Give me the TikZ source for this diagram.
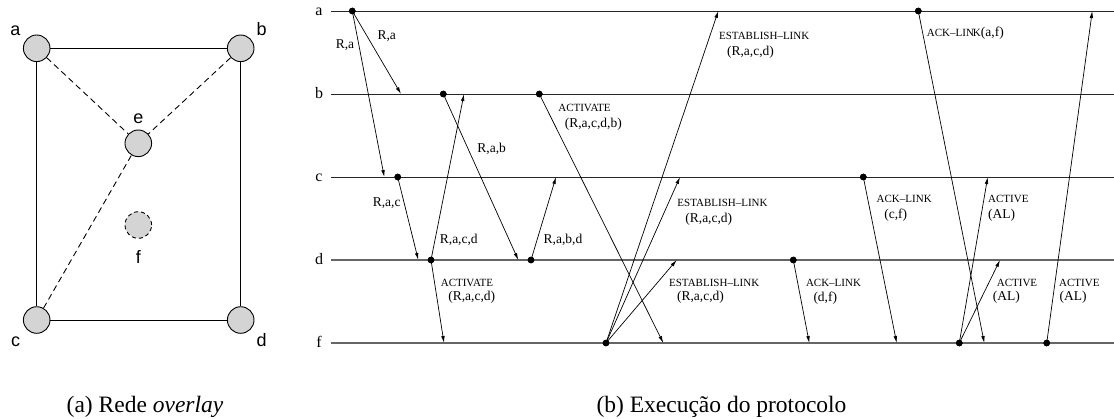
\documentclass[tikz,border=0pt]{standalone}
\usepackage{fontspec}
\setmainfont{Liberation Serif}
\newfontfamily\lsans{Liberation Sans}
\usetikzlibrary{arrows.meta}
\begin{document}
\begin{tikzpicture}[x=1pt,y=-1pt,
  vtx/.style={circle,draw=black,fill=black!17,line width=0.9pt,minimum size=26.6pt,inner sep=0pt},
  ghost/.style={vtx,dash pattern=on 4pt off 3pt},
  vlbl/.style={font=\lsans\fontsize{18}{18}\selectfont,anchor=base,inner sep=0pt},
  link/.style={line width=0.9pt},
  dlink/.style={line width=0.9pt,dash pattern=on 6pt off 4pt},
  lane/.style={line width=1pt,black!85},
  lanegray/.style={line width=1.2pt,black!60},
  lanelbl/.style={font=\fontsize{16}{16}\selectfont,anchor=base,inner sep=0pt},
  dot/.style={circle,fill=black,inner sep=0pt,minimum size=6.6pt},
  msg/.style={line width=0.7pt,-{Latex[length=7pt,width=3.6pt]}},
  lbl/.style={font=\fontsize{13.5}{13.5}\selectfont,inner sep=0pt},
  smallcap/.style={font=\fontsize{11}{11}\selectfont,inner sep=0pt},
  capt/.style={font=\fontsize{23.5}{23.5}\selectfont,inner sep=0pt,anchor=base}
]
\useasboundingbox (0,0) rectangle (1114,418);

% ---------- (a) overlay network ----------
\node[vtx] (ca) at (36.7,48.3) {};
\node[vtx] (cb) at (240.7,48.3) {};
\node[vtx] (ce) at (138.3,143.3) {};
\node[ghost] (cf) at (138.3,225) {};
\node[vtx] (cc) at (36.7,320) {};
\node[vtx] (cd) at (240.7,320) {};
\draw[link] (ca) -- (cb);
\draw[link] (ca) -- (cc);
\draw[link] (cb) -- (cd);
\draw[link] (cc) -- (cd);
\draw[dlink] (ca) -- (ce);
\draw[dlink] (cb) -- (ce);
\draw[dlink] (cc) -- (ce);
\node[vlbl] (la) at (15.5,35) {a};
\node[vlbl] (lb) at (261.7,35) {b};
\node[vlbl] (le) at (138.3,123.3) {e};
\node[vlbl] (lf) at (138.3,263.3) {f};
\node[vlbl] (lc) at (15.5,346.7) {c};
\node[vlbl] (ld) at (261.7,346.7) {d};

% ---------- (b) protocol execution ----------
\coordinate (Ha0) at (331,11);    \coordinate (Ha1) at (1114,11);
\coordinate (Hb0) at (331,94);    \coordinate (Hb1) at (1114,94);
\coordinate (Hc0) at (331,177);   \coordinate (Hc1) at (1114,177);
\coordinate (Hd0) at (331,260);   \coordinate (Hd1) at (1114,260);
\coordinate (Hf0) at (331,343);   \coordinate (Hf1) at (1114,343);
\draw[lane] (Ha0) -- (Ha1);
\draw[lane] (Hb0) -- (Hb1);
\draw[lane] (Hc0) -- (Hc1);
\draw[lanegray] (Hd0) -- (Hd1);
\draw[lanegray] (Hf0) -- (Hf1);
\node[lanelbl] (ta) at (319,15.3) {a};
\node[lanelbl] (tb) at (319,98.3) {b};
\node[lanelbl] (tc) at (319,181.3) {c};
\node[lanelbl] (td) at (319,264.3) {d};
\node[lanelbl] (tf) at (319,347.3) {f};

% event dots
\node[dot] (a1) at (352.3,11) {};
\node[dot] (a2) at (918.3,11) {};
\node[dot] (b1) at (443.3,94) {};
\node[dot] (b2) at (539.3,94) {};
\node[dot] (c1) at (397.7,177) {};
\node[dot] (c3) at (863.3,177) {};
\node[dot] (d1) at (431,260) {};
\node[dot] (d2) at (531,260) {};
\node[dot] (d3) at (793.3,260) {};
\node[dot] (f1) at (606,343) {};
\node[dot] (f2) at (959.3,343) {};
\node[dot] (f3) at (1046.7,343) {};

% arrival points
\coordinate (e1) at (401,94);
\coordinate (e2) at (384.3,177);
\coordinate (e3) at (418.3,260);
\coordinate (e4) at (518.3,260);
\coordinate (e5) at (464,94);
\coordinate (e6) at (444,343);
\coordinate (e7) at (556,177);
\coordinate (e8) at (663.3,343);
\coordinate (e9) at (718.3,11);
\coordinate (e10) at (680,177);
\coordinate (e11) at (676.7,260);
\coordinate (e12) at (809.3,343);
\coordinate (e13) at (896.7,343);
\coordinate (e14) at (984.3,343);
\coordinate (e15) at (987.7,177);
\coordinate (e16) at (1000,260);
\coordinate (e17) at (1092.3,11);

\draw[msg] (a1.center) -- (e1);
\draw[msg] (a1.center) -- (e2);
\draw[msg] (c1.center) -- (e3);
\draw[msg] (b1.center) -- (e4);
\draw[msg] (d1.center) -- (e5);
\draw[msg] (d1.center) -- (e6);
\draw[msg] (d2.center) -- (e7);
\draw[msg] (b2.center) -- (e8);
\draw[msg] (f1.center) -- (e9);
\draw[msg] (f1.center) -- (e10);
\draw[msg] (f1.center) -- (e11);
\draw[msg] (d3.center) -- (e12);
\draw[msg] (c3.center) -- (e13);
\draw[msg] (a2.center) -- (e14);
\draw[msg] (f2.center) -- (e15);
\draw[msg] (f2.center) -- (e16);
\draw[msg] (f3.center) -- (e17);

% redraw dots on top
\foreach \n in {a1,a2,b1,b2,c1,c3,d1,d2,d3,f1,f2,f3}
  \fill (\n.center) circle (3.3pt);

% message labels
\node[lbl] (m1) at (386.7,36) {R,a};
\node[lbl] (m2) at (345,45) {R,a};
\node[lbl] (m3) at (386.7,203.3) {R,a,c};
\node[lbl] (m4) at (491.7,148.7) {R,a,b};
\node[lbl] (m5) at (458.8,240) {R,a,c,d};
\node[lbl] (m7) at (563,240) {R,a,b,d};

\node[smallcap] (m6a) at (467,282.7) {ACTIVATE};
\node[lbl] (m6b) at (471.7,297.7) {(R,a,c,d)};
\node[smallcap] (m8a) at (584.5,107.7) {ACTIVATE};
\node[lbl] (m8b) at (593.3,124.3) {(R,a,c,d,b)};

\node[smallcap] (m9a) at (764.2,36) {ESTABLISH–LINK};
\node[lbl] (m9b) at (750.5,52.7) {(R,a,c,d)};
\node[smallcap] (m10a) at (722.5,203.3) {ESTABLISH–LINK};
\node[lbl] (m10b) at (708.8,219.3) {(R,a,c,d)};
\node[smallcap] (m11a) at (714.2,282.7) {ESTABLISH–LINK};
\node[lbl] (m11b) at (700.5,297.7) {(R,a,c,d)};

\node[smallcap] (m12a) at (833.5,282.7) {ACK–LINK};
\node[lbl] (m12b) at (825.3,297.7) {(d,f)};
\node[smallcap] (m13a) at (904.2,199.3) {ACK–LINK};
\node[lbl] (m13b) at (895.8,215) {(c,f)};
\node[anchor=west,inner sep=0pt] (m14) at (926.7,32.7) {\fontsize{11}{11}\selectfont ACK–LIN\kern-1ptK\fontsize{13.5}{13.5}\selectfont(a,f)};

\node[smallcap] (m15a) at (1008.3,199.3) {ACTIVE};
\node[lbl] (m15b) at (1001.7,215) {(AL)};
\node[smallcap] (m16a) at (1017,282.7) {ACTIVE};
\node[lbl] (m16b) at (1006.3,297.7) {(AL)};
\node[smallcap] (m17a) at (1079.3,282.7) {ACTIVE};
\node[lbl] (m17b) at (1073,297.7) {(AL)};

% captions
\node[capt] (capA) at (145,412) {(a) Rede \textit{overlay}};
\node[capt] (capB) at (721.5,412) {(b) Execução do protocolo};
\end{tikzpicture}
\end{document}
